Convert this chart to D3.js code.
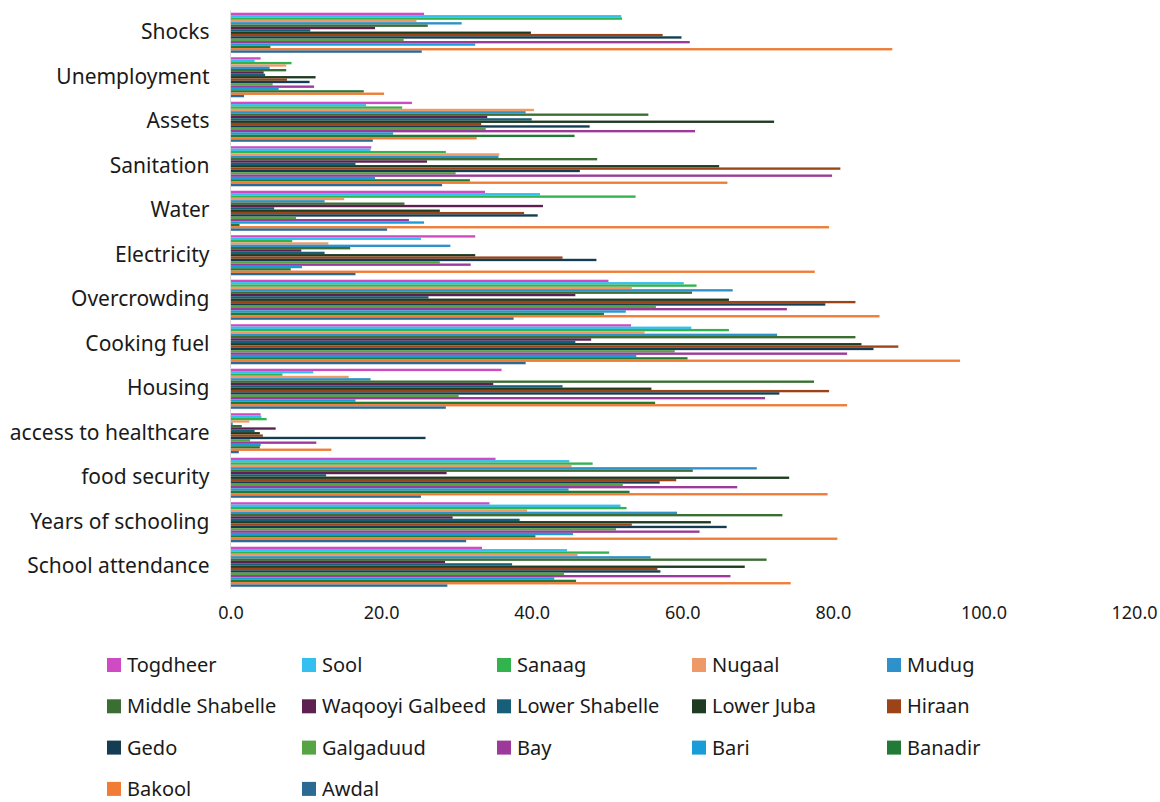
<!DOCTYPE html>
<html><head><meta charset="utf-8">
<script src="https://cdn.jsdelivr.net/npm/d3@7/dist/d3.min.js"></script>
<style>body{margin:0;background:#fff}svg{display:block}text{font-family:"Noto Sans",sans-serif;fill:#1a1a1a}</style>
</head><body><div id="chart"></div>
<script>
const categories = ["Shocks","Unemployment","Assets","Sanitation","Water","Electricity","Overcrowding","Cooking fuel","Housing","access to healthcare","food security","Years of schooling","School attendance"];
const seriesNames = ["Togdheer","Sool","Sanaag","Nugaal","Mudug","Middle Shabelle","Waqooyi Galbeed","Lower Shabelle","Lower Juba","Hiraan","Gedo","Galgaduud","Bay","Bari","Banadir","Bakool","Awdal"];
const seriesColors = ["#CF4BC4","#33BFEF","#33B34D","#EE9A68","#2F91C9","#3B6E33","#5E1F51","#175E78","#1F3B22","#9C4418","#143C52","#57A444","#9B3A9A","#1A9CD8","#237A37","#F07C36","#2C6A94"];
// values per series, in category order
const Togdheer = [25.7,4.0,24.1,18.7,33.8,32.5,50.2,53.2,36.0,4.0,35.2,34.4,33.4];
const Sool = [51.9,3.2,18.0,18.6,41.1,25.3,60.2,61.2,11.0,4.1,45.0,51.8,44.7];
const Sanaag = [52.0,8.1,22.8,28.6,53.8,8.2,61.9,66.2,6.9,4.8,48.1,52.6,50.3];
const Nugaal = [24.7,7.4,40.3,35.7,15.1,13.0,53.3,55.0,15.7,2.5,45.3,39.4,46.1];
const Mudug = [30.7,5.2,39.2,35.6,12.5,29.2,66.7,72.6,18.6,0.3,69.9,59.3,55.8];
const MiddleShabelle = [26.2,7.4,55.5,48.7,23.1,15.9,61.3,83.0,77.5,1.5,61.4,73.3,71.2];
const WaqooyiGalbeed = [19.2,4.4,34.1,26.1,41.5,9.4,45.8,47.9,34.9,6.0,28.7,29.5,28.5];
const LowerShabelle = [10.6,4.6,40.0,16.6,5.8,12.5,26.3,45.8,44.1,3.2,12.7,38.4,37.4];
const LowerJuba = [39.9,11.3,72.2,64.9,27.8,32.5,66.2,83.8,55.9,3.9,74.2,63.8,68.3];
const Hiraan = [57.4,7.5,33.3,81.0,39.0,44.1,83.0,88.7,79.5,4.3,59.2,53.3,56.7];
const Gedo = [59.9,10.5,47.7,46.4,40.8,48.6,79.0,85.4,72.9,25.9,57.0,65.9,57.1];
const Galgaduud = [23.0,5.6,33.9,29.9,8.7,27.8,56.5,59.0,30.3,2.6,52.1,51.2,44.3];
const Bay = [61.0,11.1,61.7,79.9,23.7,31.9,73.9,81.9,71.0,11.4,67.3,62.3,66.4];
const Bari = [32.5,6.4,21.6,19.2,25.7,9.5,52.5,53.9,16.6,4.0,44.9,45.5,43.0];
const Banadir = [5.3,17.7,45.7,31.8,1.2,8.0,49.6,60.7,56.4,3.9,53.0,40.5,45.9];
const Bakool = [87.9,20.4,32.7,66.0,79.5,77.6,86.2,96.9,81.9,13.4,79.3,80.6,74.4];
const Awdal = [25.4,1.8,18.9,28.1,20.8,16.6,37.6,39.2,28.6,1.1,25.3,31.3,28.8];
const tickValues = [0,20,40,60,80,100,120];

const seriesValues = [Togdheer,Sool,Sanaag,Nugaal,Mudug,MiddleShabelle,WaqooyiGalbeed,LowerShabelle,LowerJuba,Hiraan,Gedo,Galgaduud,Bay,Bari,Banadir,Bakool,Awdal];

const W = 1160, H = 802;
const svg = d3.select("#chart").append("svg").attr("width", W).attr("height", H);

const x = d3.scaleLinear().domain([0,120]).range([230.5,1134]);
const y = d3.scaleBand().domain(categories).range([10.5,589]).paddingInner(0.1).paddingOuter(0.05);
const y1 = d3.scaleBand().domain(seriesNames).range([0, y.bandwidth()]);

const g = svg.append("g");
categories.forEach((c, ci) => {
  const grp = g.append("g").attr("transform", `translate(0,${y(c)})`);
  grp.selectAll("rect").data(seriesNames.map((s, si) => ({s, si, v: seriesValues[si][ci]})))
    .join("rect")
    .attr("x", x(0))
    .attr("y", d => y1(d.s))
    .attr("width", d => x(d.v) - x(0))
    .attr("height", y1.bandwidth())
    .attr("fill", d => seriesColors[d.si]);
});

// category axis line
svg.append("line").attr("x1", x(0)).attr("x2", x(0)).attr("y1", 10.5).attr("y2", 589)
  .attr("stroke", "#d9d9d9").attr("stroke-width", 1);

// category labels
const yAxis = d3.axisLeft(y).tickSize(0).tickPadding(21);
const ya = svg.append("g").attr("transform", `translate(${x(0)},0)`).call(yAxis);
ya.select(".domain").remove();
ya.selectAll("text").style("font-family", '"Noto Sans",sans-serif').style("font-size", "21px").attr("fill", "#1a1a1a");

// value axis
const xAxis = d3.axisBottom(x).tickValues(tickValues).tickFormat(d3.format(".1f")).tickSize(0).tickPadding(0);
const xa = svg.append("g").attr("transform", `translate(0,606)`).call(xAxis);
xa.select(".domain").remove();
xa.selectAll("text").style("font-family", '"Noto Sans",sans-serif').style("font-size", "18px").attr("fill", "#1a1a1a").attr("dy", "0.71em");

// legend
const legend = svg.append("g");
seriesNames.forEach((s, i) => {
  const col = i % 5, row = Math.floor(i / 5);
  const lx = 107 + col * 195, ly = 665 + row * 41.3;
  const it = legend.append("g").attr("transform", `translate(${lx},${ly})`);
  it.append("rect").attr("x", 0).attr("y", -7).attr("width", 14).attr("height", 14).attr("fill", seriesColors[i]);
  it.append("text").attr("x", 20).attr("y", 0).attr("dy", "0.35em").style("font-size", "20px").text(s);
});
</script></body></html>
